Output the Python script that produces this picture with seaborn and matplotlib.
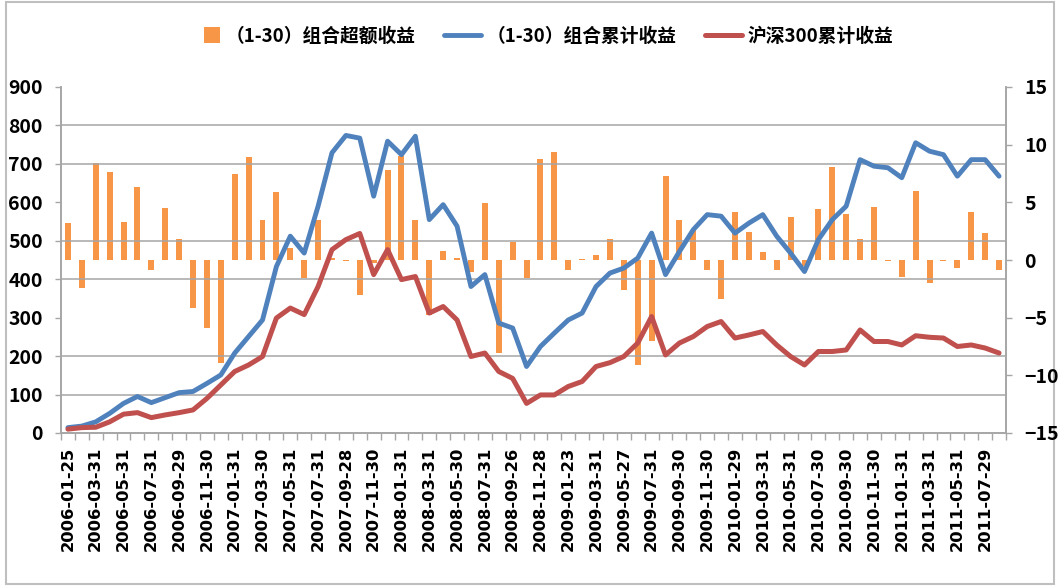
import numpy as np
import matplotlib
matplotlib.use('Agg')
import matplotlib.pyplot as plt
import seaborn as sns
from matplotlib.lines import Line2D
from matplotlib.patches import Rectangle, Patch
from matplotlib.legend_handler import HandlerPatch
from matplotlib.font_manager import FontProperties

# month-end dates (every other one is shown on the axis)
dates = ['2006-01-25', '2006-02-28', '2006-03-31', '2006-04-28', '2006-05-31', '2006-06-30',
         '2006-07-31', '2006-08-31', '2006-09-29', '2006-10-31', '2006-11-30', '2006-12-29',
         '2007-01-31', '2007-02-28', '2007-03-30', '2007-04-30', '2007-05-31', '2007-06-29',
         '2007-07-31', '2007-08-31', '2007-09-28', '2007-10-31', '2007-11-30', '2007-12-28',
         '2008-01-31', '2008-02-29', '2008-03-31', '2008-04-30', '2008-05-30', '2008-06-30',
         '2008-07-31', '2008-08-29', '2008-09-26', '2008-10-31', '2008-11-28', '2008-12-31',
         '2009-01-23', '2009-02-27', '2009-03-31', '2009-04-30', '2009-05-27', '2009-06-30',
         '2009-07-31', '2009-08-31', '2009-09-30', '2009-10-30', '2009-11-30', '2009-12-31',
         '2010-01-29', '2010-02-26', '2010-03-31', '2010-04-30', '2010-05-31', '2010-06-30',
         '2010-07-30', '2010-08-31', '2010-09-30', '2010-10-29', '2010-11-30', '2010-12-31',
         '2011-01-31', '2011-02-28', '2011-03-31', '2011-04-29', '2011-05-31', '2011-06-30',
         '2011-07-29', '2011-08-31']

# (1-30) portfolio excess return, right axis
excess = [3.2, -2.4, 8.4, 7.6, 3.3, 6.3, -0.9, 4.5, 1.8, -4.2,
          -5.9, -8.9, 7.5, 8.9, 3.5, 5.9, 1.0, -1.6, 3.5, 0.2,
          -0.1, -3.0, -0.3, 7.8, 9.0, 3.5, -4.8, 0.8, 0.2, -1.0,
          4.9, -8.1, 1.6, -1.6, 8.8, 9.4, -0.9, 0.1, 0.4, 1.8,
          -2.6, -9.1, -7.0, 7.3, 3.5, 2.6, -0.9, -3.4, 4.2, 2.4,
          0.7, -0.9, 3.7, -0.5, 4.4, 8.1, 4.0, 1.8, 4.6, -0.1,
          -1.5, 6.0, -2.0, -0.1, -0.7, 4.2, 2.3, -0.9]

# (1-30) portfolio cumulative return, left axis
portfolio = [14, 18, 29, 51, 77, 95, 79, 92, 105, 108,
             129, 151, 208, 251, 294, 433, 512, 468, 590, 729,
             774, 767, 616, 759, 724, 772, 555, 594, 538, 381,
             412, 286, 273, 173, 225, 260, 294, 312, 381, 416,
             429, 455, 520, 412, 472, 529, 568, 564, 520, 546,
             568, 512, 468, 420, 503, 555, 590, 711, 694, 690,
             664, 755, 733, 724, 668, 711, 711, 668]

# CSI 300 cumulative return, left axis
csi300 = [10, 14, 15, 29, 49, 53, 40, 47, 53, 60,
          90, 125, 160, 177, 199, 299, 325, 308, 381, 477,
          503, 519, 412, 477, 399, 407, 312, 329, 294, 199,
          208, 160, 142, 77, 99, 99, 121, 134, 173, 183,
          199, 234, 303, 203, 234, 251, 277, 290, 247, 255,
          264, 229, 199, 177, 212, 212, 216, 268, 238, 238,
          229, 253, 249, 247, 225, 229, 221, 208]

labels = ['（1-30）组合超额收益', '（1-30）组合累计收益', '沪深300累计收益']

ORANGE = '#F79646'
BLUE = '#4F81BD'
RED = '#C0504D'
GRID = '#a6a6a6'

cjk_font = ['Noto Sans CJK SC', 'DejaVu Sans']

pos = np.arange(len(dates))

fig = plt.figure(figsize=(10.62, 5.88), dpi=100)
ax = fig.add_axes([61 / 1062, 1 - 433 / 588, 945 / 1062, 346 / 588])
ax2 = ax.twinx()

# bars on the secondary axis, lines on top
sns.barplot(x=pos, y=excess, color=ORANGE, saturation=1, width=0.43, ax=ax2)
sns.lineplot(x=pos, y=portfolio, color=BLUE, linewidth=3.5, ax=ax,
             solid_capstyle='round', solid_joinstyle='round')
sns.lineplot(x=pos, y=csi300, color=RED, linewidth=3.6, ax=ax,
             solid_capstyle='round', solid_joinstyle='round')

ax.set_zorder(2)
ax2.set_zorder(1)
ax.patch.set_visible(False)

ax.set_xlim(-0.5, len(dates) - 0.5)
ax.set_ylim(0, 900)
ax2.set_ylim(-15, 15)

ax.set_yticks(range(0, 901, 100))
ax2.set_yticks(range(-15, 16, 5))

# horizontal grid at the left-axis steps, drawn behind the bars
ax2.set_yticks(np.linspace(-15, 15, 10), minor=True)
ax2.grid(which='minor', axis='y', color=GRID, linewidth=1.1)
ax2.grid(which='major', visible=False)
ax.grid(False)

ax.set_xticks(pos[::2])
ax.set_xticklabels(dates[::2], rotation=90)
ax.set_xticks(np.arange(-0.5, len(dates), 1), minor=True)

for lab in ax.get_xticklabels():
    lab.set_fontfamily('DejaVu Sans')
    lab.set_fontweight('bold')
    lab.set_fontsize(11.8)
for lab in ax.get_yticklabels() + ax2.get_yticklabels():
    lab.set_fontfamily(cjk_font)
    lab.set_fontweight('bold')
    lab.set_fontsize(14)

ax.tick_params(axis='x', which='major', length=0, pad=10)
ax.tick_params(axis='x', which='minor', length=5, color=GRID, width=1)
ax.tick_params(axis='y', which='major', length=4, color=GRID, width=1, pad=9)
ax2.tick_params(axis='y', which='major', length=4, color=GRID, width=1, pad=9)
ax2.tick_params(axis='y', which='minor', length=0)

for a in (ax, ax2):
    a.set_xlabel('')
    a.set_ylabel('')
    for side, sp in a.spines.items():
        sp.set_color(GRID)
        sp.set_linewidth(1.2)
    a.spines['top'].set_visible(False)


def square_handle(legend, orig_handle, xdescent, ydescent, width, height, fontsize):
    s = 0.85 * fontsize
    return Rectangle((width - s - xdescent, (height - s) / 2 - ydescent), s, s)


handles = [Patch(facecolor=ORANGE, edgecolor='none'),
           Line2D([], [], color=BLUE, linewidth=3.5, solid_capstyle='round'),
           Line2D([], [], color=RED, linewidth=3.6, solid_capstyle='round')]
fig.legend(handles, labels, loc='center', bbox_to_anchor=(538 / 1062, 1 - 36 / 588),
           ncol=3, frameon=False, handlelength=2.0, handletextpad=0.3, columnspacing=1.5,
           prop=FontProperties(family=cjk_font, weight='bold', size=13.5),
           handler_map={Patch: HandlerPatch(patch_func=square_handle)})

fig.add_artist(Rectangle((6 / 1062, 4 / 588), 1048 / 1062, 582 / 588,
                         transform=fig.transFigure, fill=False, edgecolor='#bfbfbf',
                         linewidth=1.5))

fig.savefig('out.png', dpi=100, facecolor='white')
